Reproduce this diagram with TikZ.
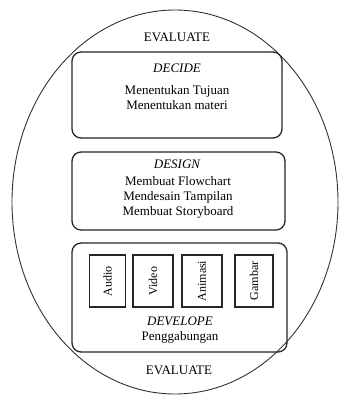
\documentclass[tikz,border=0pt]{standalone}
\usepackage{fontspec}
\setmainfont{Liberation Serif}
\begin{document}
\begin{tikzpicture}[x=1pt,y=-1pt,
  stage/.style={draw=black!85,line width=1.3pt,rounded corners=9pt},
  media/.style={draw=black!85,line width=1.2pt,minimum width=36pt,minimum height=52pt,inner sep=0pt},
  lbl/.style={font=\fontsize{13}{15}\selectfont,align=center,inner sep=0pt},
  vlbl/.style={font=\fontsize{12}{14}\selectfont,rotate=90,inner sep=0pt}]
\useasboundingbox (0,0) rectangle (343,396);
\fill[white] (0,0) rectangle (343,396);
\draw[black!80,line width=0.9pt] (175,202) ellipse [x radius=163, y radius=192];
\node[lbl] (ev1) at (177,37) {EVALUATE};
\node[lbl] (ev2) at (179,370) {EVALUATE};
% DECIDE
\draw[stage] (72,52) rectangle (282,138);
\node[lbl] (dec) at (177,68) {\itshape DECIDE};
\node[lbl] (decT) at (177,98) {Menentukan Tujuan\\Menentukan materi};
% DESIGN
\draw[stage] (72,152) rectangle (285,230);
\node[lbl] (des) at (177,164) {\itshape DESIGN};
\node[lbl] (desT) at (178,197) {Membuat Flowchart\\Mendesain Tampilan\\Membuat Storyboard};
% DEVELOPE
\draw[stage] (72,243) rectangle (287,352);
\node[media] (au) at (107.5,281) {};
\node[media,minimum width=40pt] (vi) at (153,281) {};
\node[media,minimum width=40pt] (an) at (202,281) {};
\node[media,minimum width=38pt] (ga) at (254,281) {};
\node[vlbl] at (au) {Audio};
\node[vlbl] at (vi) {Video};
\node[vlbl] at (an) {Animasi};
\node[vlbl] at (ga) {Gambar};
\node[lbl] (dev) at (180,321) {\itshape DEVELOPE};
\node[lbl] (devT) at (180,337) {Penggabungan};
\end{tikzpicture}
\end{document}
